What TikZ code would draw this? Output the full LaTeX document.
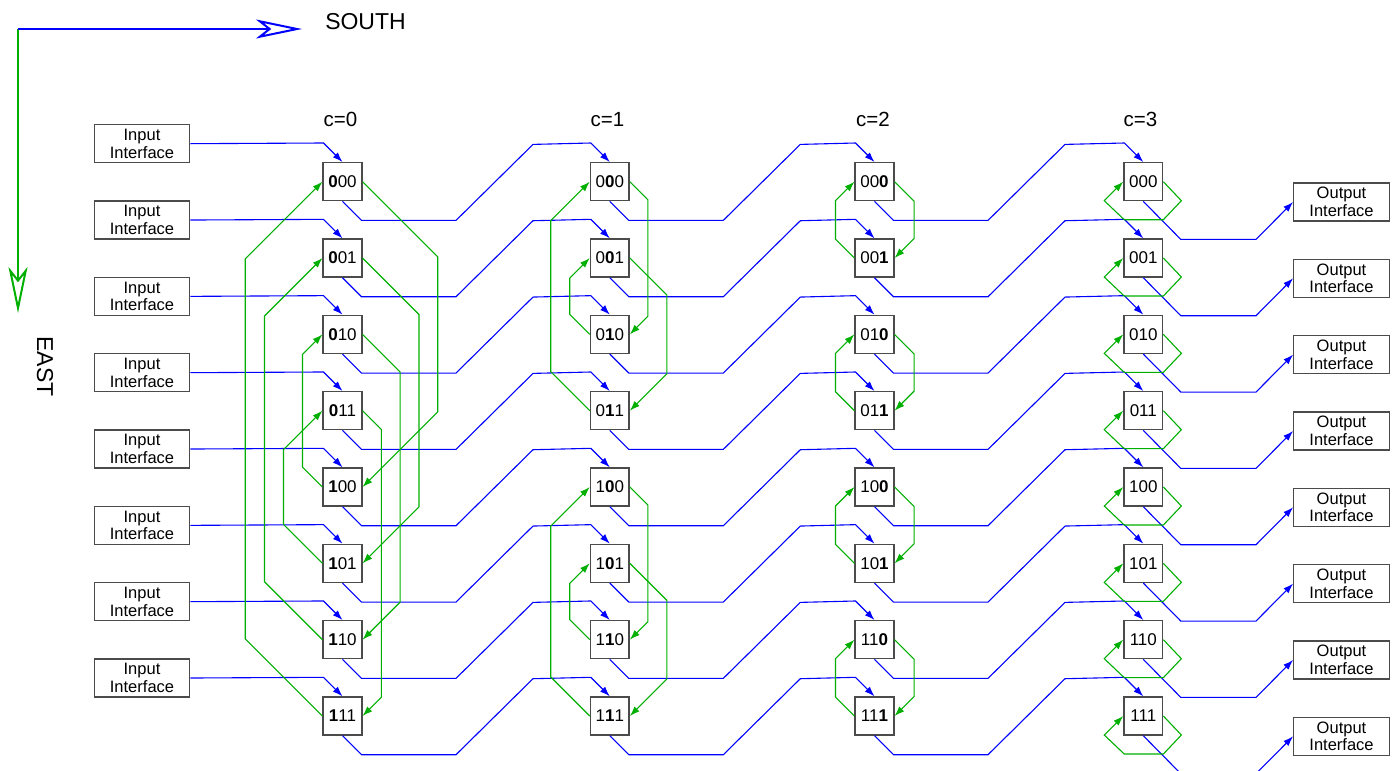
\documentclass[tikz,border=0pt]{standalone}
\usepackage{fontspec}
\setmainfont{Liberation Sans}
\usetikzlibrary{arrows.meta,calc}
\definecolor{bl}{RGB}{0,0,255}
\definecolor{gr}{RGB}{0,175,0}
\definecolor{bx}{RGB}{75,75,75}
\begin{document}
\begin{tikzpicture}[x=1pt,y=-1pt,
  nbox/.style={draw=bx,line width=1.4pt,minimum width=38.7pt,minimum height=38pt,inner sep=0pt,fill=white,font=\fontsize{17}{17}\selectfont},
  ibox/.style={draw=bx,line width=1.3pt,minimum width=95.5pt,minimum height=38pt,inner sep=0pt,align=center,fill=white,font=\fontsize{16.5}{17.7}\selectfont},
  bline/.style={draw=bl,line width=1.1pt,-{Latex[length=10pt,width=7pt]}},
  gline/.style={draw=gr,line width=1.1pt,-{Latex[length=10pt,width=7pt]}},
  lbl/.style={font=\fontsize{20.5}{20.5}\selectfont,anchor=base},
  axlbl/.style={font=\fontsize{23}{23}\selectfont},
]
\useasboundingbox (0,0) rectangle (1395,771);
\clip (0,0) rectangle (1395,771);

% axes
\coordinate (o) at (18,29);
\coordinate (s) at (302,29);
\coordinate (e) at (18,313);
\draw[gr,line width=2pt,-{Stealth[open,length=46pt,width=19pt,inset=12pt]}] (o) -- (e);
\draw[bl,line width=2pt,-{Stealth[open,length=46pt,width=19pt,inset=12pt]}] (o) -- (s);
\node[axlbl,anchor=base] (southlbl) at (365.5,29.3) {SOUTH};
\node[axlbl,rotate=-90] (eastlbl) at (45,366.5) {EAST};

% column labels
\node[lbl] (c0) at (340.5,126) {c=0};
\node[lbl] (c1) at (607.5,126) {c=1};
\node[lbl] (c2) at (873,126) {c=2};
\node[lbl] (c3) at (1140.5,126) {c=3};

% nodes
\foreach \i/\p/\q/\r in {0/0/0/0,1/0/0/1,2/0/1/0,3/0/1/1,4/1/0/0,5/1/0/1,6/1/1/0,7/1/1/1}{
  \pgfmathsetmacro\y{181.7+76.33*\i}
  \node[nbox] (n0-\i) at (342.5,\y) {\textbf{\p}\q\r};
  \node[nbox] (n1-\i) at (609.8,\y) {\p\textbf{\q}\r};
  \node[nbox] (n2-\i) at (874.5,\y) {\p\q\textbf{\r}};
  \node[nbox] (n3-\i) at (1143.3,\y) {\p\q\r};
  \node[ibox] (in-\i) at (142,\y-38) {Input\\Interface};
  \node[ibox] (out-\i) at (1341.5,\y+20.3) {Output\\Interface};
}

% blue lines
\foreach \i in {0,...,7}{
  \draw[bline] (in-\i.east) -- ($(n0-\i.north)+(-19,-19)$) -- (n0-\i.north);
  \foreach \c/\d in {0/1,1/2,2/3}{
    \draw[bline] (n\c-\i.south) -- ++(19,19) -- ($(n\c-\i.south)+(113.5,19)$)
      -- ($(n\c-\i.south)+(190.5,-57)$) -- ($(n\d-\i.north)+(-19,-19)$) -- (n\d-\i.north);
  }
  \draw[bline] (n3-\i.south) -- ++(37.5,38) -- ($(n3-\i.south)+(112.7,38)$) -- (out-\i.west);
}

% green lines, column 0
\foreach \a/\b/\d in {0/4/75.2,1/5/56.4,2/6/37.6,3/7/18.8}{
  \draw[gline] (n0-\a.east) -- ++(\d,\d) -- ($(n0-\b.east)+(\d,-\d)$) -- (n0-\b.east);
}
\foreach \a/\b/\d in {7/0/77.2,6/1/58,5/3/39,4/2/20}{
  \draw[gline] (n0-\a.west) -- ++(-\d,-\d) -- ($(n0-\b.west)+(-\d,\d)$) -- (n0-\b.west);
}
% column 1
\foreach \a/\b/\d in {0/2/18,1/3/37,4/6/18,5/7/37}{
  \draw[gline] (n1-\a.east) -- ++(\d,\d) -- ($(n1-\b.east)+(\d,-\d)$) -- (n1-\b.east);
}
\foreach \a/\b/\d in {2/1/20,3/0/39,6/5/20,7/4/39}{
  \draw[gline] (n1-\a.west) -- ++(-\d,-\d) -- ($(n1-\b.west)+(-\d,\d)$) -- (n1-\b.west);
}
% column 2
\foreach \a/\b in {0/1,2/3,4/5,6/7}{
  \draw[gline] (n2-\a.east) -- ++(19.5,19.5) -- ($(n2-\b.east)+(19.5,-19.5)$) -- (n2-\b.east);
  \draw[gline] (n2-\b.west) -- ++(-19,-19) -- ($(n2-\a.west)+(-19,19)$) -- (n2-\a.west);
}
% column 3 loops
\foreach \i in {0,...,7}{
  \draw[gline] (n3-\i.east) -- ++(18,19) -- ++(-18,19) -- ($(n3-\i.west)+(1,38)$) -- ++(-20,-19) -- (n3-\i.west);
}
\end{tikzpicture}
\end{document}
